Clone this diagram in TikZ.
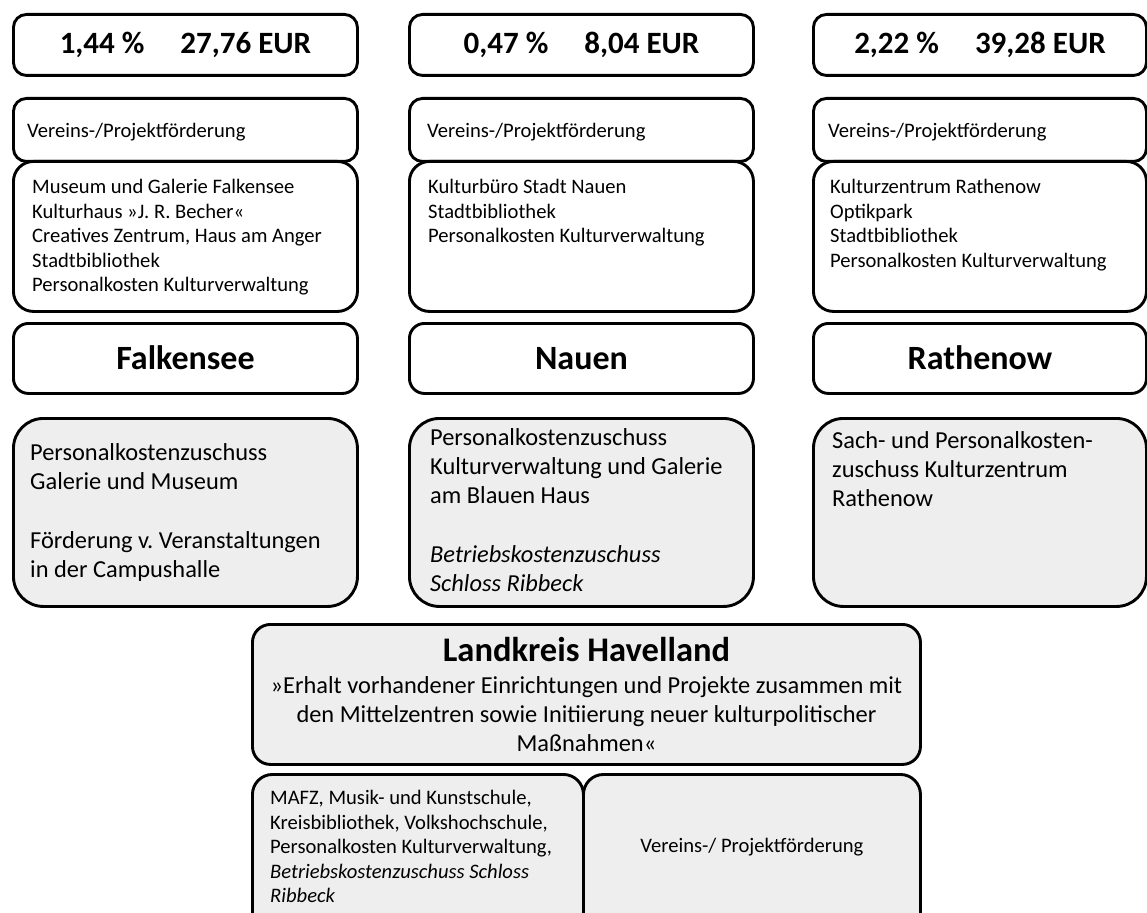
\documentclass[tikz,border=0pt]{standalone}
\usepackage{fontspec}
\setmainfont{Carlito}
\definecolor{boxgray}{HTML}{EEEEEE}
\frenchspacing

\newcommand{\pctfont}{\fontsize{31}{37}\selectfont\bfseries}
\newcommand{\cityfont}{\fontsize{34}{41}\selectfont\bfseries}
\newcommand{\lktitlefont}{\fontsize{34.5}{41}\selectfont\bfseries}
\newcommand{\listfont}{\fontsize{20.6}{24.5}\selectfont}
\newcommand{\greyfont}{\fontsize{24.4}{29.3}\selectfont}

\begin{document}
\begin{tikzpicture}[x=1pt,y=-1pt,
    box/.style={draw, line width=2.9pt, rounded corners=#1, inner sep=0pt, anchor=north west},
    box/.default=14pt,
    wide/.style={minimum width=344pt},
    narrow/.style={minimum width=333pt},
    pctbox/.style={box=13pt, minimum height=61pt, font=\pctfont, text height=21pt, text depth=4pt},
    vereinbox/.style={box=13pt, minimum height=63pt},
    listbox/.style={box=20pt, minimum height=150pt},
    citybox/.style={box=15pt, minimum height=70pt, font=\cityfont, text height=23pt, text depth=0pt},
    greybox/.style={box=30pt, minimum height=188pt, fill=boxgray},
    smalltext/.style={font=\listfont, inner sep=0pt, align=left},
    greytext/.style={font=\greyfont, inner sep=0pt, align=left, anchor=north west}]

    \useasboundingbox (0,0) rectangle (1147,912);
    \clip (0,0) rectangle (1147,912);

    % Falkensee
    \node[pctbox, wide] (fpct) at (12,13) {1,44~\%\hspace{36pt}27,76 EUR};
    \node[vereinbox, wide] (fverein) at (12,97) {};
    \node[listbox, wide] (flist) at (12,160) {};
    \node[citybox, wide] (fcity) at (12,322) {Falkensee};
    \node[greybox, wide] (fgrey) at (12,417) {};
    \node[smalltext, anchor=west] (fvereintext) at ([xshift=15pt,yshift=-2pt]fverein.west) {Vereins-/Projektförderung};
    \node[smalltext, anchor=north west] (flisttext) at ([xshift=20pt,yshift=-19pt]flist.north west)
        {Museum und Galerie Falkensee\\Kulturhaus »J. R. Becher«\\Creatives Zentrum, Haus am Anger\\Stadtbibliothek\\Personalkosten Kulturverwaltung};
    \node[greytext] (fgreytext) at ([xshift=18pt,yshift=-26pt]fgrey.north west)
        {Personalkostenzuschuss\\Galerie und Museum\\[29.3pt]Förderung v. Veranstaltungen\\in der Campushalle};

    % Nauen
    \node[pctbox, wide] (npct) at (408,13) {0,47~\%\hspace{36pt}8,04 EUR};
    \node[vereinbox, wide] (nverein) at (408,97) {};
    \node[listbox, wide] (nlist) at (408,160) {};
    \node[citybox, wide] (ncity) at (408,322) {Nauen};
    \node[greybox, wide] (ngrey) at (408,417) {};
    \node[smalltext, anchor=west] (nvereintext) at ([xshift=19pt,yshift=-2pt]nverein.west) {Vereins-/Projektförderung};
    \node[smalltext, anchor=north west] (nlisttext) at ([xshift=20pt,yshift=-19pt]nlist.north west)
        {Kulturbüro Stadt Nauen\\Stadtbibliothek\\Personalkosten Kulturverwaltung};
    \node[greytext] (ngreytext) at ([xshift=22pt,yshift=-11pt]ngrey.north west)
        {Personalkostenzuschuss\\Kulturverwaltung und Galerie\\am Blauen Haus\\[29.3pt]\textit{Betriebskostenzuschuss}\\\textit{Schloss Ribbeck}};

    % Rathenow
    \node[pctbox, narrow] (rpct) at (812,13) {2,22~\%\hspace{36pt}39,28 EUR};
    \node[vereinbox, narrow] (rverein) at (812,97) {};
    \node[listbox, narrow] (rlist) at (812,160) {};
    \node[citybox, narrow] (rcity) at (812,322) {Rathenow};
    \node[greybox, narrow] (rgrey) at (812,417) {};
    \node[smalltext, anchor=west] (rvereintext) at ([xshift=16pt,yshift=-2pt]rverein.west) {Vereins-/Projektförderung};
    \node[smalltext, anchor=north west] (rlisttext) at ([xshift=18pt,yshift=-19pt]rlist.north west)
        {Kulturzentrum Rathenow\\Optikpark\\Stadtbibliothek\\Personalkosten Kulturverwaltung};
    \node[greytext] (rgreytext) at ([xshift=20pt,yshift=-14pt]rgrey.north west)
        {Sach- und Personalkosten-\\zuschuss Kulturzentrum\\Rathenow};

    % Landkreis
    \node[box=18pt, fill=boxgray, minimum width=668pt, minimum height=140pt] (lk) at (251,623) {};
    \node[font=\lktitlefont, inner sep=0pt] (lktitle) at ([yshift=-27pt]lk.north) {Landkreis Havelland};
    \node[font=\greyfont, inner sep=0pt, align=center, anchor=north] (lksub) at ([yshift=-53pt]lk.north)
        {»Erhalt vorhandener Einrichtungen und Projekte zusammen mit\\den Mittelzentren sowie Initiierung neuer kulturpolitischer\\Maßnahmen«};
    \node[box=20pt, fill=boxgray, minimum width=331pt, minimum height=170pt] (lkinst) at (251,773) {};
    \node[box=20pt, fill=boxgray, minimum width=337pt, minimum height=170pt] (lkverein) at (582,773) {};
    \node[smalltext, anchor=north west] (lkinsttext) at ([xshift=19pt,yshift=-17pt]lkinst.north west)
        {MAFZ, Musik- und Kunstschule,\\Kreisbibliothek, Volkshochschule,\\Personalkosten Kulturverwaltung,\\\textit{Betriebskostenzuschuss Schloss}\\\textit{Ribbeck}};
    \node[smalltext] (lkvereintext) at ([yshift=-74pt]lkverein.north) {Vereins-/ Projektförderung};
\end{tikzpicture}
\end{document}
